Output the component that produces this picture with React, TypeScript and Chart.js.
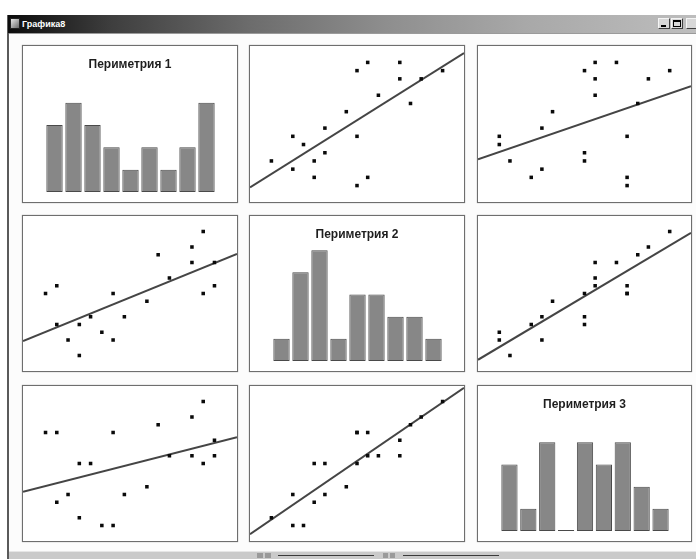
import React, { useEffect, useRef } from "react";
import { Chart, registerables } from "chart.js";
Chart.register(...registerables);

// ---- data ----
const windowTitle = "Графика8";
const variableNames = ["Периметрия 1", "Периметрия 2", "Периметрия 3"];
const perimetry1 = [0, 1, 1, 2, 3, 3, 4, 5, 6, 6, 7, 9, 10, 11, 13, 13, 14, 14, 15, 15];
const perimetry2 = [8, 9, 4, 2, 4, 0, 5, 3, 8, 2, 5, 7, 13, 10, 14, 12, 16, 8, 12, 9];
const perimetry3 = [12, 12, 3, 4, 8, 1, 8, 0, 12, 0, 4, 5, 13, 9, 14, 9, 16, 8, 11, 9];
const histBins = ["1", "2", "3", "4", "5", "6", "7", "8", "9"];
const hist1 = [3, 4, 3, 2, 1, 2, 1, 2, 4];
const hist2 = [1, 4, 5, 1, 3, 3, 2, 2, 1];
const hist3 = [3, 1, 4, 0, 4, 3, 4, 2, 1];
const axisMin = [-2, -2, -2];
const axisMax = [17, 18, 18];
const histMax = 6;

const vars = [perimetry1, perimetry2, perimetry3];
const hists = [hist1, hist2, hist3];

// ---- layout ----
const colLeft = [22, 249, 477];
const colRight = [238, 465, 692];
const rowTop = [45, 215, 385];
const rowBottom = [203, 372, 542];
const BORDER = 1;

function ols(xs: number[], ys: number[]) {
  const n = xs.length;
  const mx = xs.reduce((a, b) => a + b, 0) / n;
  const my = ys.reduce((a, b) => a + b, 0) / n;
  let sxy = 0;
  let sxx = 0;
  for (let k = 0; k < n; k++) {
    sxy += (xs[k] - mx) * (ys[k] - my);
    sxx += (xs[k] - mx) * (xs[k] - mx);
  }
  const slope = sxy / sxx;
  return { slope, intercept: my - slope * mx };
}

const panelTitle = {
  id: "panelTitle",
  afterDraw(chart: any, _args: any, opts: any) {
    if (!opts || !opts.text) return;
    const ctx = chart.ctx;
    ctx.save();
    ctx.font = 'bold 12px "Liberation Sans", Arial, sans-serif';
    ctx.fillStyle = "#1e1e1e";
    ctx.textAlign = "center";
    ctx.textBaseline = "middle";
    ctx.fillText(opts.text, chart.width / 2, opts.y);
    ctx.restore();
  },
};

function histConfig(i: number): any {
  return {
    type: "bar",
    data: {
      labels: histBins,
      datasets: [
        {
          data: hists[i],
          backgroundColor: "#878787",
          borderColor: "#4a4a4a",
          borderWidth: 1,
          borderSkipped: false,
          barPercentage: 0.86,
          categoryPercentage: 1,
          minBarLength: 1,
        },
      ],
    },
    options: {
      responsive: false,
      maintainAspectRatio: false,
      animation: false,
      layout: { autoPadding: false, padding: { left: 22, right: 21, top: 12, bottom: 10 } },
      scales: {
        x: { display: false },
        y: { display: false, min: 0, max: histMax },
      },
      plugins: {
        legend: { display: false },
        tooltip: { enabled: false },
        panelTitle: { text: variableNames[i], y: 18.5 },
      },
    },
    plugins: [panelTitle],
  };
}

function scatterConfig(i: number, j: number): any {
  const xs = vars[j];
  const ys = vars[i];
  const { slope, intercept } = ols(xs, ys);
  const x0 = axisMin[j];
  const x1 = axisMax[j];
  return {
    type: "scatter",
    data: {
      datasets: [
        {
          type: "line",
          data: [
            { x: x0, y: intercept + slope * x0 },
            { x: x1, y: intercept + slope * x1 },
          ],
          borderColor: "#454545",
          borderWidth: 2,
          pointRadius: 0,
          fill: false,
          order: 2,
        },
        {
          type: "scatter",
          data: xs.map((x, k) => ({ x, y: ys[k] })),
          pointStyle: "rect",
          pointRadius: 2.5,
          backgroundColor: "#0a0a0a",
          borderWidth: 0,
          order: 1,
        },
      ],
    },
    options: {
      responsive: false,
      maintainAspectRatio: false,
      animation: false,
      layout: { autoPadding: false, padding: 0 },
      scales: {
        x: { type: "linear", display: false, min: x0, max: x1 },
        y: { type: "linear", display: false, min: axisMin[i], max: axisMax[i] },
      },
      plugins: {
        legend: { display: false },
        tooltip: { enabled: false },
      },
    },
  };
}

function Panel({ i, j }: { i: number; j: number }) {
  const ref = useRef<HTMLCanvasElement>(null);
  const left = colLeft[j];
  const top = rowTop[i];
  const width = colRight[j] - left;
  const height = rowBottom[i] - top;
  const cw = width - 2 * BORDER;
  const ch = height - 2 * BORDER;
  useEffect(() => {
    const cfg = i === j ? histConfig(i) : scatterConfig(i, j);
    const chart = new Chart(ref.current as HTMLCanvasElement, cfg);
    return () => chart.destroy();
  }, [i, j]);
  return (
    <div
      style={{
        position: "absolute",
        left,
        top,
        width,
        height,
        boxSizing: "border-box",
        border: `${BORDER}px solid #6e6e6e`,
        boxShadow: "0 0 1px #9a9a9a",
        background: "#ffffff",
      }}
    >
      <canvas
        ref={ref}
        width={cw}
        height={ch}
        style={{ display: "block", width: cw, height: ch }}
      />
    </div>
  );
}

function WinButton({ left, children }: { left: number; children?: React.ReactNode }) {
  return (
    <div
      style={{
        position: "absolute",
        left,
        top: 18,
        width: 12,
        height: 11,
        boxSizing: "border-box",
        background: "#d8d8d8",
        borderTop: "1px solid #f4f4f4",
        borderLeft: "1px solid #f4f4f4",
        borderRight: "1px solid #404040",
        borderBottom: "1px solid #404040",
      }}
    >
      {children}
    </div>
  );
}

export default function App() {
  const cells: React.ReactNode[] = [];
  for (let i = 0; i < 3; i++) {
    for (let j = 0; j < 3; j++) {
      cells.push(<Panel key={`${i}-${j}`} i={i} j={j} />);
    }
  }
  return (
    <div
      style={{
        position: "absolute",
        left: 0,
        top: 0,
        width: 696,
        height: 559,
        overflow: "hidden",
        background: "#ffffff",
        fontFamily: '"Liberation Sans", Arial, sans-serif',
      }}
    >
      {/* window frame */}
      <div
        style={{
          position: "absolute",
          left: 7,
          top: 15,
          width: 689,
          height: 544,
          borderLeft: "2px solid #5a5a5a",
          boxSizing: "border-box",
          background: "#fcfcfc",
        }}
      />
      {/* title bar */}
      <div
        style={{
          position: "absolute",
          left: 8,
          top: 15,
          width: 688,
          height: 18,
          background:
            "linear-gradient(to right, #0c0c0c 0%, #3e3e3e 15%, #6c6c6c 35%, #8e8e8e 55%, #a8a8a8 75%, #bdbdbd 100%)",
        }}
      />
      <div
        style={{
          position: "absolute",
          left: 10,
          top: 18,
          width: 10,
          height: 11,
          background: "linear-gradient(135deg, #e8e8e8, #6a6a6a)",
          border: "1px solid #222",
          boxSizing: "border-box",
        }}
      />
      <div
        style={{
          position: "absolute",
          left: 22,
          top: 17,
          height: 14,
          lineHeight: "14px",
          fontSize: 9,
          fontWeight: "bold",
          color: "#ffffff",
          whiteSpace: "nowrap",
        }}
      >
        {windowTitle}
      </div>
      <WinButton left={658}>
        <div style={{ position: "absolute", left: 2, top: 6, width: 5, height: 2, background: "#000" }} />
      </WinButton>
      <WinButton left={671}>
        <div
          style={{
            position: "absolute",
            left: 1,
            top: 1,
            width: 8,
            height: 7,
            boxSizing: "border-box",
            border: "1px solid #000",
            borderTop: "2px solid #000",
          }}
        />
      </WinButton>
      <WinButton left={686} />
      <div style={{ position: "absolute", left: 9, top: 33, width: 687, height: 1, background: "#9a9a9a" }} />
      {cells}
      {/* bottom status / scroll strip */}
      <div
        style={{
          position: "absolute",
          left: 9,
          top: 551,
          width: 687,
          height: 8,
          background: "#cacaca",
          borderTop: "1px solid #e6e6e6",
          boxSizing: "border-box",
        }}
      />
      <div style={{ position: "absolute", left: 257, top: 553, width: 6, height: 5, background: "#9a9a9a" }} />
      <div style={{ position: "absolute", left: 265, top: 553, width: 6, height: 5, background: "#9a9a9a" }} />
      <div style={{ position: "absolute", left: 278, top: 555, width: 96, height: 1, background: "#3a3a3a" }} />
      <div style={{ position: "absolute", left: 383, top: 553, width: 5, height: 5, background: "#9a9a9a" }} />
      <div style={{ position: "absolute", left: 390, top: 553, width: 5, height: 5, background: "#9a9a9a" }} />
      <div style={{ position: "absolute", left: 403, top: 555, width: 96, height: 1, background: "#3a3a3a" }} />
    </div>
  );
}
